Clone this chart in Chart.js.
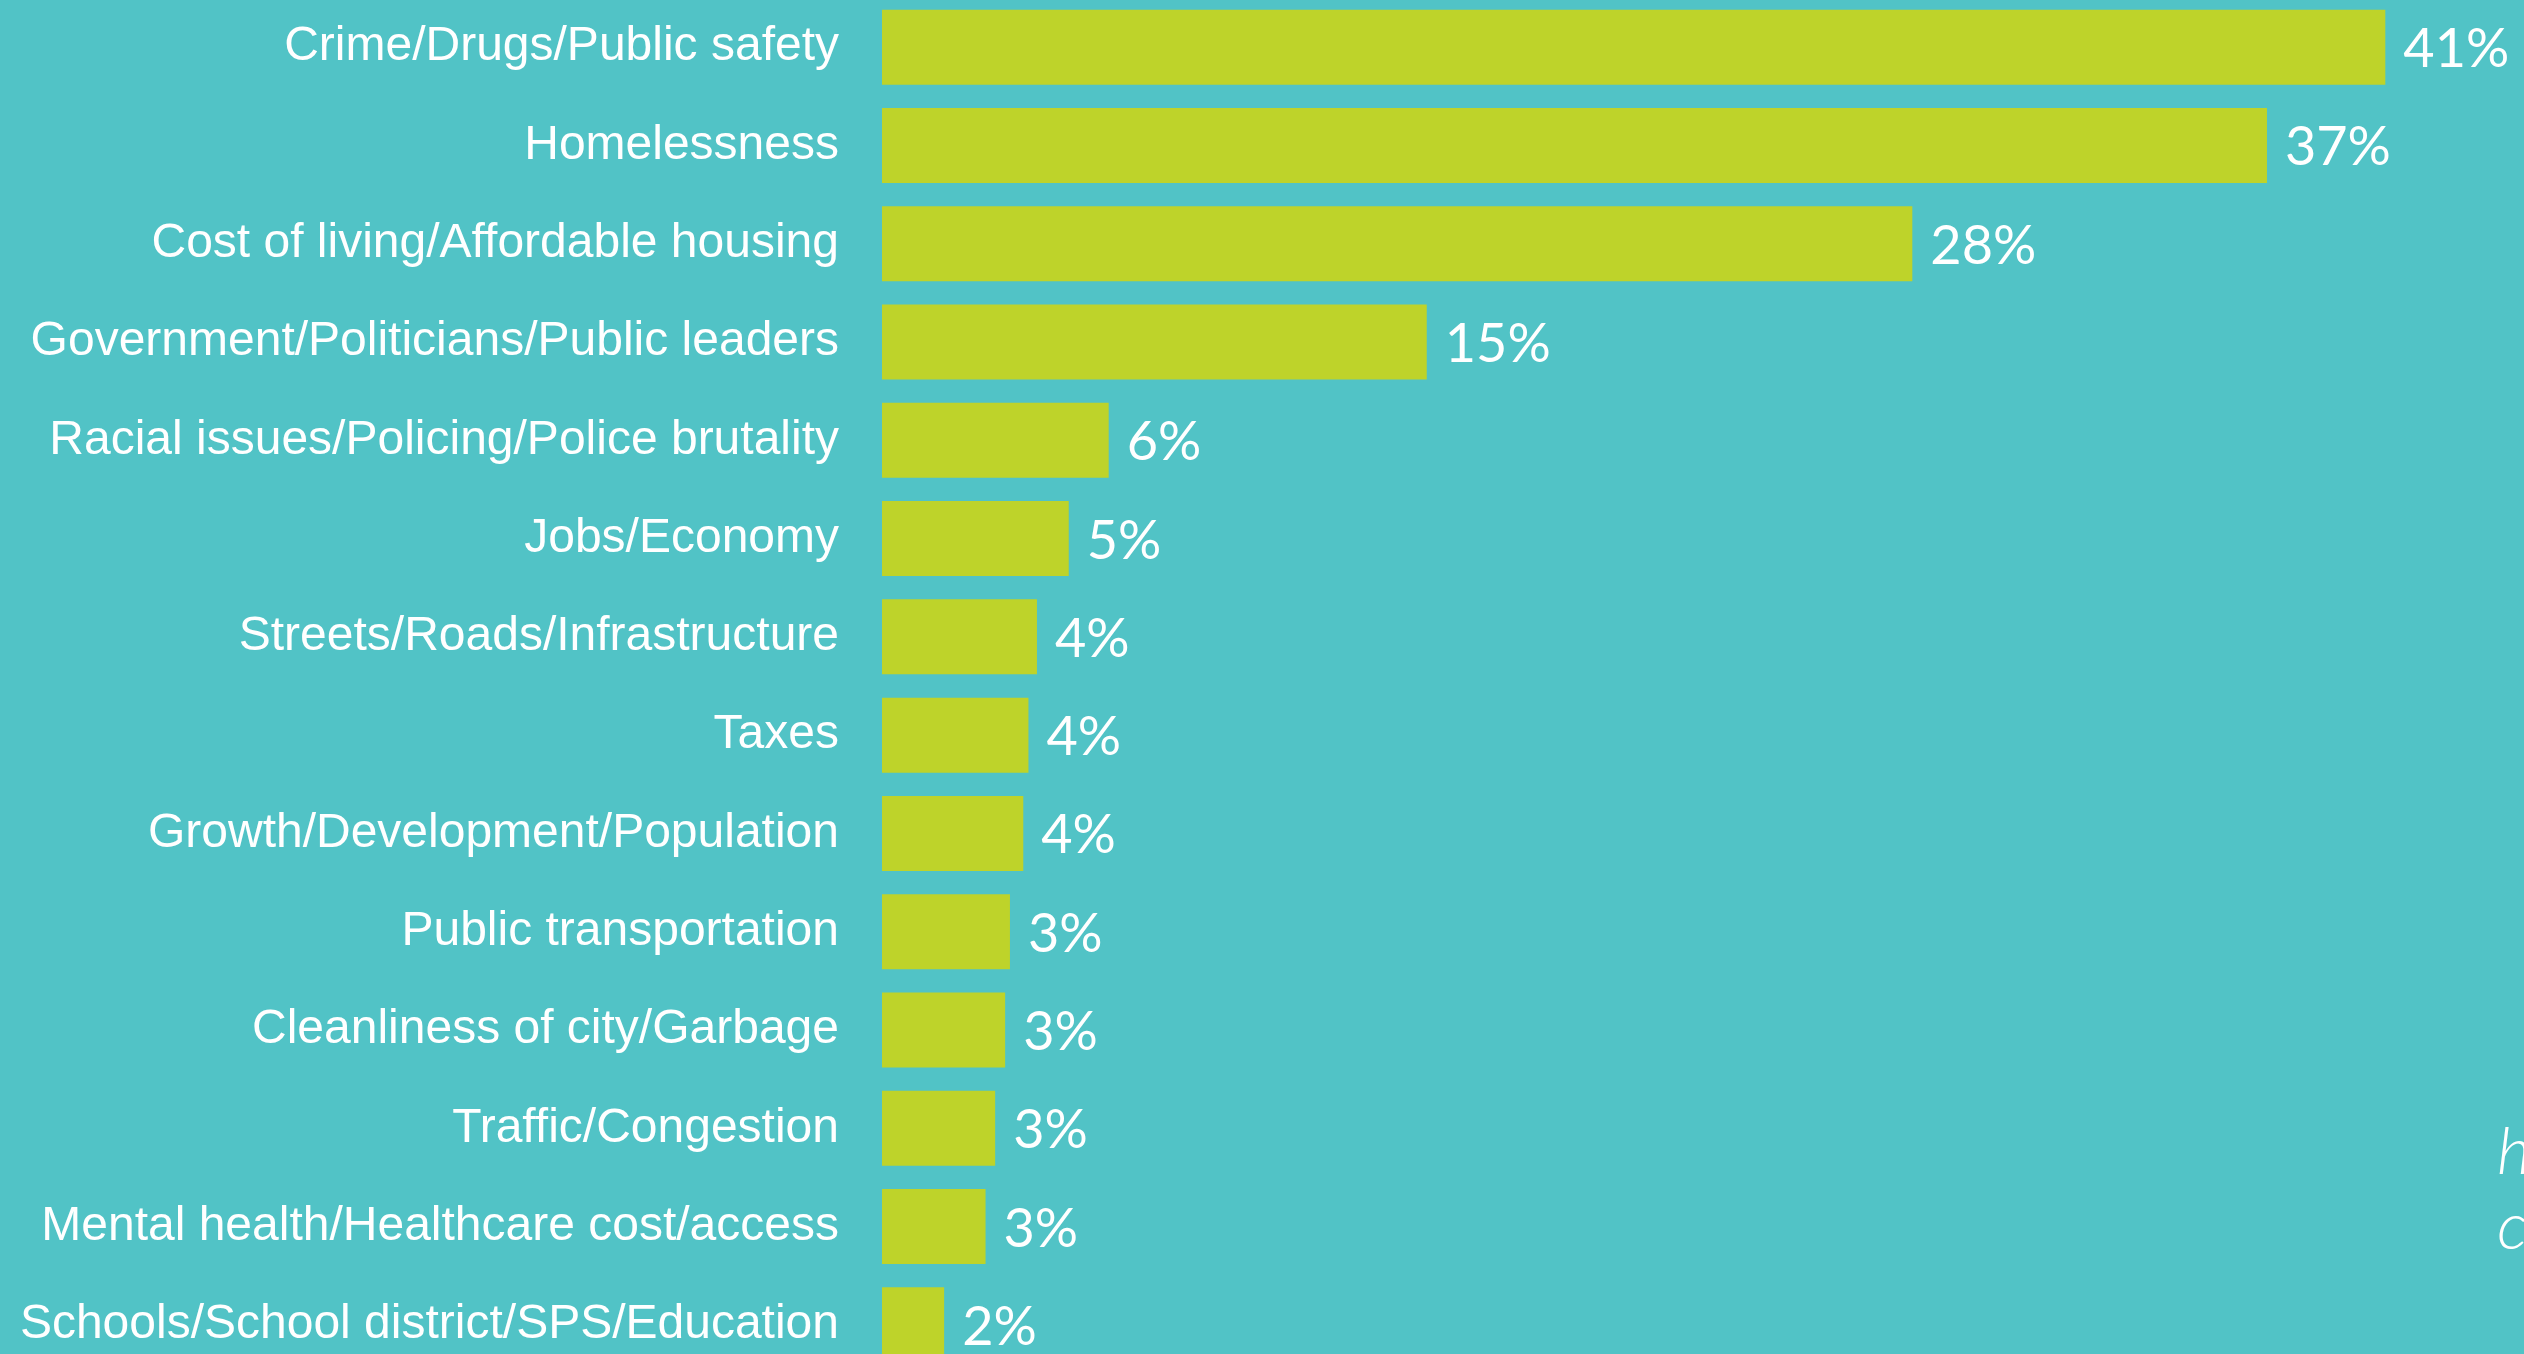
<!DOCTYPE html>
<html>
<head>
<meta charset="utf-8">
<script src="https://cdn.jsdelivr.net/npm/chart.js@4.4.1/dist/chart.umd.min.js"></script>
<style>
  html, body { margin:0; padding:0; background:#51C3C6; overflow:hidden; width:2524px; height:1354px; }
  #c { position:absolute; left:0; top:-2px; display:block; }
</style>
</head>
<body>
<canvas id="c" width="2524" height="1376"></canvas>
<script>
const categories = [
  'Crime/Drugs/Public safety',
  'Homelessness',
  'Cost of living/Affordable housing',
  'Government/Politicians/Public leaders',
  'Racial issues/Policing/Police brutality',
  'Jobs/Economy',
  'Streets/Roads/Infrastructure',
  'Taxes',
  'Growth/Development/Population',
  'Public transportation',
  'Cleanliness of city/Garbage',
  'Traffic/Congestion',
  'Mental health/Healthcare cost/access',
  'Schools/School district/SPS/Education'
];
const values = [40.65, 37.45, 27.86, 14.73, 6.13, 5.05, 4.19, 3.96, 3.82, 3.46, 3.33, 3.06, 2.80, 1.68];
const valueLabels = ['41%','37%','28%','15%','6%','5%','4%','4%','4%','3%','3%','3%','3%','2%'];
const sideText = ['h', 'c'];

const valueLabelPlugin = {
  id: 'valueLabels',
  afterDatasetsDraw(chart) {
    const ctx = chart.ctx;
    const meta = chart.getDatasetMeta(0);
    ctx.save();
    ctx.fillStyle = '#ffffff';
    ctx.font = '400 54px Lato';
    ctx.textAlign = 'left';
    ctx.textBaseline = 'alphabetic';
    meta.data.forEach((bar, i) => {
      ctx.fillText(valueLabels[i], bar.x + 18, bar.y + 20);
    });
    ctx.restore();
  },
  afterDraw(chart) {
    const ctx = chart.ctx;
    ctx.save();
    ctx.fillStyle = '#ffffff';
    ctx.font = 'italic 300 66px Lato';
    ctx.textAlign = 'left';
    ctx.textBaseline = 'alphabetic';
    ctx.fillText(sideText[0], 2497, 1176);
    ctx.fillText(sideText[1], 2497, 1251);
    ctx.restore();
  }
};

new Chart(document.getElementById('c'), {
  type: 'bar',
  data: {
    labels: categories,
    datasets: [{
      data: values,
      backgroundColor: '#BED32A',
      borderWidth: 0,
      barPercentage: 0.763,
      categoryPercentage: 1
    }]
  },
  options: {
    indexAxis: 'y',
    responsive: false,
    maintainAspectRatio: false,
    animation: false,
    devicePixelRatio: 1,
    layout: { padding: 0, autoPadding: false },
    plugins: { legend: { display: false }, tooltip: { enabled: false } },
    scales: {
      x: { display: false, min: 0, max: 44.4 },
      y: {
        grid: { display: false, drawTicks: false },
        border: { display: false },
        ticks: {
          color: '#ffffff',
          font: { family: 'Liberation Sans', size: 48 },
          padding: 43,
          autoSkip: false
        },
        afterFit(scale) { scale.width = 882; scale.paddingTop = 0; scale.paddingBottom = 0; }
      }
    }
  },
  plugins: [valueLabelPlugin]
});
</script>
</body>
</html>
